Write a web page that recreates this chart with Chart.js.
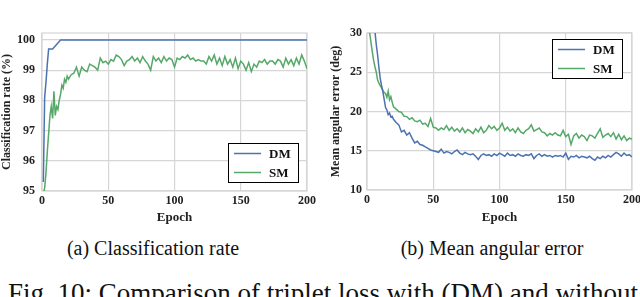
<!DOCTYPE html>
<html lang="en">

<head>
    <meta charset="UTF-8">
    <title>Triplet loss comparison</title>
    <script src="https://cdn.jsdelivr.net/npm/chart.js"></script>
    <style>
        body {
            margin: 0;
            width: 640px;
            height: 297px;
            overflow: hidden;
            position: relative;
            background: #ffffff;
            font-family: 'Liberation Serif', serif;
            color: #111;
        }

        canvas {
            position: absolute;
            top: 0;
        }

        .caption {
            position: absolute;
            font-size: 20px;
            line-height: 24px;
            white-space: nowrap;
            transform: translateX(-50%);
        }

        .figline {
            position: absolute;
            left: 8px;
            top: 277px;
            font-size: 27px;
            line-height: 32px;
            white-space: nowrap;
        }
    </style>
</head>

<body>
    <canvas id="rateChart" width="320" height="230" style="left:0"></canvas>
    <canvas id="errChart" width="340" height="230" style="left:320px"></canvas>
    <div class="caption" style="left:153px; top:236px">(a) Classification rate</div>
    <div class="caption" style="left:492px; top:236px">(b) Mean angular error</div>
    <div class="figline">Fig. 10: Comparison of triplet loss with (DM) and without</div>

    <script>
        // epochs (every epoch first, then every second one)
        const epochs = [
            1, 2, 3, 4, 5, 6, 7, 8, 9, 10,
            11, 12, 13, 14, 15, 16, 17, 18, 19, 20,
            22, 24, 26, 28, 30, 32, 34, 36, 38, 40,
            42, 44, 46, 48, 50, 52, 54, 56, 58, 60,
            62, 64, 66, 68, 70, 72, 74, 76, 78, 80,
            82, 84, 86, 88, 90, 92, 94, 96, 98, 100,
            102, 104, 106, 108, 110, 112, 114, 116, 118, 120,
            122, 124, 126, 128, 130, 132, 134, 136, 138, 140,
            142, 144, 146, 148, 150, 152, 154, 156, 158, 160,
            162, 164, 166, 168, 170, 172, 174, 176, 178, 180,
            182, 184, 186, 188, 190, 192, 194, 196, 198, 200
        ];

        // (a) classification rate (%)
        const rateDM = [
            95.3, 98.1, 98.6, 99.2, 99.7, 99.7, 99.7, 99.7, 99.75, 99.8,
            99.85, 99.9, 99.95, 100, 100, 100, 100, 100, 100, 100,
            100, 100, 100, 100, 100, 100, 100, 100, 100, 100,
            100, 100, 100, 100, 100, 100, 100, 100, 100, 100,
            100, 100, 100, 100, 100, 100, 100, 100, 100, 100,
            100, 100, 100, 100, 100, 100, 100, 100, 100, 100,
            100, 100, 100, 100, 100, 100, 100, 100, 100, 100,
            100, 100, 100, 100, 100, 100, 100, 100, 100, 100,
            100, 100, 100, 100, 100, 100, 100, 100, 100, 100,
            100, 100, 100, 100, 100, 100, 100, 100, 100, 100,
            100, 100, 100, 100, 100, 100, 100, 100, 100, 100
        ];
        const rateSM = [
            94.9, 95.1, 95.6, 96.3, 96.9, 97.5, 97.8, 97.4, 98.3, 97.5,
            97.8, 97.7, 98.0, 98.2, 98.5, 98.4, 98.7, 98.6, 98.8, 98.7,
            98.85, 98.9, 99.1, 98.8, 99.1, 99.0, 98.95, 99.2, 99.15, 99.1,
            99.0, 99.4, 99.25, 99.3, 99.2, 99.35, 99.3, 99.5, 99.45, 99.35,
            99.15, 99.3, 99.35, 99.45, 99.3, 99.4, 99.25, 99.45, 99.3, 99.2,
            99.0, 99.45, 99.3, 99.4, 99.25, 99.45, 99.3, 99.4, 99.35, 99.1,
            99.4, 99.35, 99.45, 99.4, 99.5, 99.35, 99.4, 99.3, 99.35, 99.3,
            99.3, 99.2, 99.45, 99.3, 99.5, 99.2, 99.4, 99.15, 99.45, 99.2,
            99.35, 99.1, 99.4, 99.05, 99.3, 99.2, 99.0, 99.25, 98.95, 99.2,
            99.1, 99.3, 99.25, 99.35, 99.2, 99.3, 99.3, 99.2, 99.35, 99.3,
            99.1, 99.4, 99.2, 99.35, 99.15, 99.4, 99.2, 99.5, 99.3, 99.05
        ];

        // (b) mean angular error (deg)
        const errDM = [
            45, 40, 36, 33, 31, 30.2, 28.5, 27.2, 25.6, 24.2,
            23.3, 22.5, 21.5, 20.5, 20.2, 19.6, 19.8, 19.3, 19.4, 19.0,
            18.6, 18.3, 17.4, 17.6, 17.0, 17.3, 16.6, 16.0, 16.2, 15.8,
            15.7, 15.5, 15.3, 15.1, 15.0, 14.9, 14.8, 15.2, 14.7, 14.9,
            14.8, 14.6, 14.9, 15.1, 14.7, 14.5, 14.8, 14.6, 14.5, 14.6,
            14.3, 13.9, 14.4, 14.6, 14.4, 14.5, 14.3, 14.6, 14.4, 14.7,
            14.5, 14.3, 14.7, 14.4, 14.5, 14.3, 14.6, 14.4, 14.3, 14.5,
            14.4, 14.6, 14.0, 14.4, 14.6, 14.3, 14.5, 14.3, 14.4, 14.2,
            14.4, 14.3, 14.4, 14.2, 14.7, 13.9, 14.3, 14.2, 14.4, 14.1,
            14.3, 14.2, 14.1, 14.3, 14.0, 13.8, 14.2, 14.0, 14.3, 14.1,
            14.4, 14.2, 14.5, 14.8, 14.6, 14.3, 14.7, 14.4, 14.5, 14.2
        ];
        const errSM = [
            31.5, 30.0, 28.8, 27.6, 26.5, 25.7, 25.0, 24.0, 23.6, 23.3,
            23.0, 22.7, 22.4, 22.3, 21.8, 22.6, 21.5, 21.9, 21.2, 20.6,
            20.3, 20.0, 19.9, 19.4, 19.35, 19.0, 19.2, 18.8, 18.7, 18.9,
            18.4, 18.5, 18.1, 19.1, 18.0, 17.9, 17.6, 17.9, 17.7, 18.2,
            17.6, 18.0, 17.5, 17.8, 17.4, 17.9, 17.3, 17.7, 17.5, 17.2,
            17.8, 17.4, 18.0, 17.3, 17.6, 18.2, 17.8, 18.1, 17.6, 17.9,
            18.5, 17.6, 18.0, 17.5, 17.8, 17.3, 17.9, 17.4, 17.2, 17.6,
            17.8, 18.3, 17.5, 17.7, 17.9, 17.4, 17.3, 16.9, 17.2, 17.0,
            17.3, 17.0, 16.9, 17.6, 16.8, 17.1, 15.8, 16.9, 17.2, 16.6,
            17.0, 16.8, 16.3, 17.0, 16.9, 16.6, 17.2, 17.8, 16.7, 17.0,
            17.2, 16.8, 17.3, 16.5, 17.1, 16.4, 16.9, 16.3, 16.6, 16.5
        ];

        const xTicks = [0, 50, 100, 150, 200];
        const rateTicks = [95, 96, 97, 98, 99, 100];
        const errTicks = [10, 15, 20, 25, 30];
        const seriesLabels = ['DM', 'SM'];

        const BLUE = '#4c72b0';
        const GREEN = '#55a868';
        const GRID = '#d6d6d6';
        const SERIF = "'Liberation Serif', serif";

        Chart.defaults.font.family = SERIF;
        Chart.defaults.font.weight = 'bold';
        Chart.defaults.color = '#222';

        // light grey frame around the plot area
        const framePlugin = {
            id: 'frame',
            beforeDatasetsDraw(chart) {
                const a = chart.chartArea, ctx = chart.ctx;
                ctx.save();
                ctx.strokeStyle = GRID;
                ctx.lineWidth = 1.2;
                ctx.strokeRect(a.left, a.top, a.right - a.left, a.bottom - a.top);
                ctx.restore();
            }
        };

        // boxed legend inside the plot area
        const boxLegend = {
            id: 'boxLegend',
            afterDatasetsDraw(chart, args, opts) {
                const a = chart.chartArea, ctx = chart.ctx;
                const w = 70, h = 39;
                const x = a.right - opts.right - w;
                const y = opts.top != null ? a.top + opts.top : a.bottom - opts.bottom - h;
                ctx.save();
                ctx.fillStyle = '#fff';
                ctx.fillRect(x, y, w, h);
                ctx.strokeStyle = '#000';
                ctx.lineWidth = 1;
                ctx.strokeRect(x + 0.5, y + 0.5, w, h);
                ctx.font = "bold 13px " + SERIF;
                ctx.textBaseline = 'middle';
                chart.data.datasets.forEach((ds, i) => {
                    const ly = y + 10.5 + i * 19;
                    ctx.strokeStyle = ds.borderColor;
                    ctx.lineWidth = 1.5;
                    ctx.beginPath();
                    ctx.moveTo(x + 6, ly);
                    ctx.lineTo(x + 33, ly);
                    ctx.stroke();
                    ctx.fillStyle = '#111';
                    ctx.fillText(ds.label, x + 41, ly + 1);
                });
                ctx.restore();
            }
        };

        function makeChart(id, series, yTicks, yMin, yMax, yTitle, cfg) {
            const ctx = document.getElementById(id).getContext('2d');
            return new Chart(ctx, {
                type: 'line',
                data: {
                    datasets: series.map((vals, i) => ({
                        label: seriesLabels[i],
                        data: vals.map((v, k) => ({ x: epochs[k], y: v })),
                        borderColor: i === 0 ? BLUE : GREEN,
                        borderWidth: 1.5,
                        pointRadius: 0,
                        fill: false,
                        tension: 0
                    }))
                },
                plugins: [framePlugin, boxLegend],
                options: {
                    responsive: false,
                    animation: false,
                    layout: { padding: { top: 33, right: cfg.padRight, bottom: 0, left: 0 } },
                    plugins: {
                        legend: { display: false },
                        tooltip: { enabled: false },
                        boxLegend: cfg.legend
                    },
                    scales: {
                        x: {
                            type: 'linear',
                            min: 0,
                            max: 200,
                            afterBuildTicks: s => { s.ticks = xTicks.map(v => ({ value: v })); },
                            afterFit: s => { s.height = cfg.xHeight; },
                            ticks: { padding: 3, font: { size: 12 }, maxRotation: 0 },
                            grid: { color: GRID, lineWidth: 1.2, drawTicks: false },
                            border: { display: false },
                            title: { display: true, text: 'Epoch', font: { size: 13 }, padding: { top: 0, bottom: 5 } }
                        },
                        y: {
                            min: yMin,
                            max: yMax,
                            afterBuildTicks: s => { s.ticks = yTicks.map(v => ({ value: v })); },
                            afterFit: s => { s.width = cfg.yWidth; },
                            ticks: { padding: cfg.yTickPad, font: { size: 12 } },
                            grid: { color: GRID, lineWidth: 1.2, drawTicks: false },
                            border: { display: false },
                            title: { display: true, text: yTitle, font: { size: 12 }, padding: { top: cfg.yTitlePad, bottom: 0 } }
                        }
                    }
                }
            });
        }

        makeChart('rateChart', [rateDM, rateSM], rateTicks, 95, 100.23, 'Classification rate (%)', {
            padRight: 13, xHeight: 39, yWidth: 42, yTickPad: 7, yTitlePad: 0,
            legend: { right: 9, bottom: 9 }
        });

        makeChart('errChart', [errDM, errSM], errTicks, 10, 30, 'Mean angular error (deg)', {
            padRight: 28, xHeight: 40, yWidth: 47, yTickPad: 5, yTitlePad: 9,
            legend: { right: 10, top: 6 }
        });
    </script>
</body>

</html>
